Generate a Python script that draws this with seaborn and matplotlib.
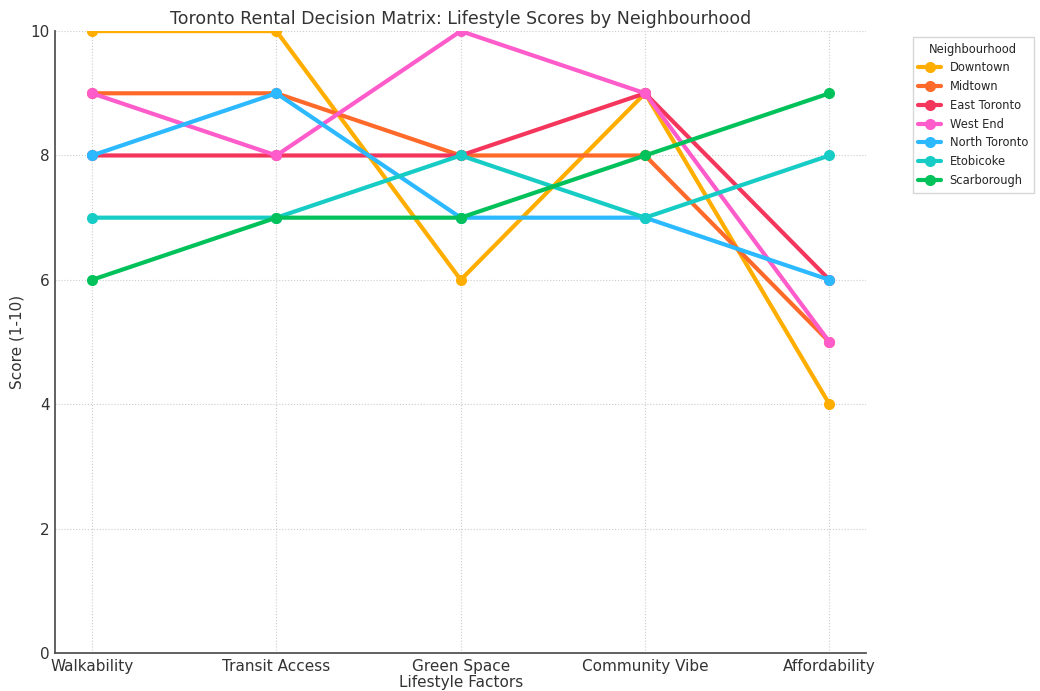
import matplotlib
matplotlib.use("Agg")
import matplotlib.pyplot as plt
import seaborn as sns
import pandas as pd

factors = ["Walkability", "Transit Access", "Green Space", "Community Vibe", "Affordability"]
neighbourhoods = ["Downtown", "Midtown", "East Toronto", "West End", "North Toronto", "Etobicoke", "Scarborough"]
downtown = [10, 10, 6, 9, 4]
midtown = [9, 9, 8, 8, 5]
east_toronto = [8, 8, 8, 9, 6]
west_end = [9, 8, 10, 9, 5]
north_toronto = [8, 9, 7, 7, 6]
etobicoke = [7, 7, 8, 7, 8]
scarborough = [6, 7, 7, 8, 9]
colors = ["#FFAE00", "#FF6A2A", "#F5365C", "#FF5CCB", "#2CB9FF", "#17CCC4", "#00C15A"]

series = [downtown, midtown, east_toronto, west_end, north_toronto, etobicoke, scarborough]
rows = []
for name, vals in zip(neighbourhoods, series):
    for f, v in zip(factors, vals):
        rows.append({"Factor": f, "Score": v, "Neighbourhood": name})
df = pd.DataFrame(rows)

sns.set_style("white")
plt.rcParams['font.family'] = ['DejaVu Sans']

fig = plt.figure(figsize=(10.4, 6.91), dpi=100)
ax = fig.add_axes([0.053, 0.055, 0.780, 0.900])
sns.lineplot(data=df, x="Factor", y="Score", hue="Neighbourhood", hue_order=neighbourhoods,
             palette=colors, marker="o", markersize=8, markeredgewidth=0, linewidth=3,
             sort=False, ax=ax)

ax.set_ylim(0, 10)
ax.set_yticks([0, 2, 4, 6, 8, 10])
ax.grid(True, linestyle=":", color="#cccccc", linewidth=0.8)
for s in ["top", "right"]:
    ax.spines[s].set_visible(False)
for s in ["left", "bottom"]:
    ax.spines[s].set_color("#555555")
    ax.spines[s].set_linewidth(1.3)
ax.tick_params(axis="both", labelsize=11, colors="#333333", length=3, direction="out", pad=1)
ax.set_title("Toronto Rental Decision Matrix: Lifestyle Scores by Neighbourhood", fontsize=12.5, color="#333333", pad=5)
ax.set_xlabel("Lifestyle Factors", fontsize=11, color="#333333", labelpad=1)
ax.set_ylabel("Score (1-10)", fontsize=11, color="#333333")

leg = ax.legend(title="Neighbourhood", loc="upper left", bbox_to_anchor=(1.05, 1.0),
                fontsize=8.3, title_fontsize=8.3, frameon=True, edgecolor="#cccccc", fancybox=False,
                handlelength=2.0, handletextpad=0.7, labelspacing=0.5, borderpad=0.5)

fig.savefig("out.png", dpi=100)
